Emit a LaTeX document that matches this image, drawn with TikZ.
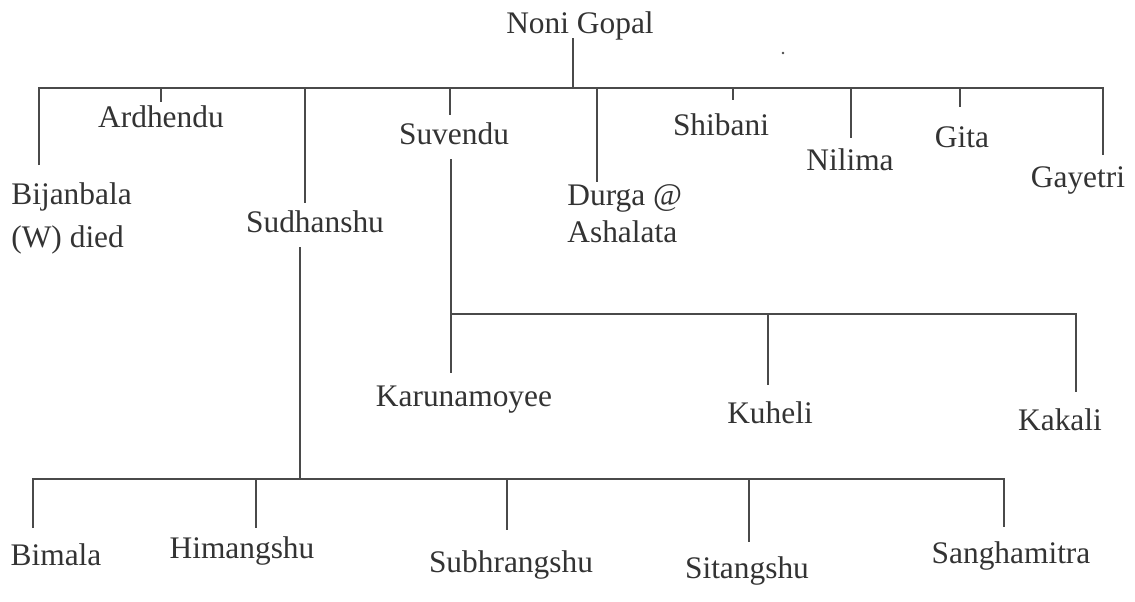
\documentclass[tikz,border=0pt]{standalone}
\usepackage{fontspec}
\setmainfont{Liberation Serif}
\definecolor{txtc}{HTML}{333333}
\definecolor{linec}{HTML}{4A4A4A}
\begin{document}
\begin{tikzpicture}[x=0.5pt,y=-0.5pt,
  lbl/.style={anchor=base,inner sep=0pt,text=txtc,font=\fontsize{15.7}{18.9}\selectfont},
  ln/.style={draw=linec,line width=1.3pt}]
\useasboundingbox[fill=white] (0,0) rectangle (1135,601);
% ---- text nodes ----
\node[lbl] (noni) at (580,33) {Noni Gopal};
\node[lbl] (ard) at (161,127) {Ardhendu};
\node[lbl,anchor=base west] (bij) at (11,204) {\begin{tabular}[t]{@{}l@{}}Bijanbala\\[2.6pt](W) died\end{tabular}};
\node[lbl] (sudh) at (315,232) {Sudhanshu};
\node[lbl] (suv) at (454,144) {Suvendu};
\node[lbl,anchor=base west] (dur) at (567,205) {\begin{tabular}[t]{@{}l@{}}Durga @\\Ashalata\end{tabular}};
\node[lbl] (shi) at (721,135) {Shibani};
\node[lbl] (nil) at (850,170) {Nilima};
\node[lbl] (gita) at (962,147) {Gita};
\node[lbl] (gay) at (1078,187) {Gayetri};
\node[lbl] (karu) at (464,406) {Karunamoyee};
\node[lbl] (kuh) at (770,423) {Kuheli};
\node[lbl] (kak) at (1060,430) {Kakali};
\node[lbl] (bim) at (56,565) {Bimala};
\node[lbl] (him) at (242,558) {Himangshu};
\node[lbl] (subh) at (511,572) {Subhrangshu};
\node[lbl] (sit) at (747,578) {Sitangshu};
\node[lbl] (san) at (1011,563) {Sanghamitra};
% ---- connector end points ----
\coordinate (noniE) at (573,38);
\coordinate (topbus) at (573,88);
\coordinate (bijE) at (39,165);
\coordinate (ardE) at (161,102);
\coordinate (sudhE) at (305,203);
\coordinate (suvE) at (450,115);
\coordinate (durE) at (597,182);
\coordinate (shiE) at (733,100);
\coordinate (nilE) at (851,138);
\coordinate (gitaE) at (960,107);
\coordinate (gayE) at (1103,155);
\coordinate (suvS) at (451,159);
\coordinate (midbus) at (451,314);
\coordinate (karuE) at (451,373);
\coordinate (kuhE) at (768,385);
\coordinate (kakE) at (1076,392);
\coordinate (sudhS) at (300,247);
\coordinate (botbus) at (300,479);
\coordinate (bimE) at (33,528);
\coordinate (himE) at (256,528);
\coordinate (subhE) at (507,530);
\coordinate (sitE) at (749,542);
\coordinate (sanE) at (1004,527);
% ---- top generation ----
\draw[ln] (noniE) -- (topbus);
\draw[ln] (bijE) -- (bijE |- topbus) -- (gayE |- topbus) -- (gayE);
\foreach \c in {ardE,sudhE,suvE,durE,shiE,nilE,gitaE}
  \draw[ln] (\c |- topbus) -- (\c);
% ---- Suvendu's children ----
\draw[ln] (suvS) -- (karuE);
\draw[ln] (midbus) -- (kakE |- midbus) -- (kakE);
\draw[ln] (kuhE |- midbus) -- (kuhE);
% ---- Sudhanshu's children ----
\draw[ln] (sudhS) -- (botbus);
\draw[ln] (bimE) -- (bimE |- botbus) -- (sanE |- botbus) -- (sanE);
\foreach \c in {himE,subhE,sitE}
  \draw[ln] (\c |- botbus) -- (\c);
% speck
\fill[linec] (783,53) circle (1.3);
\end{tikzpicture}
\end{document}
